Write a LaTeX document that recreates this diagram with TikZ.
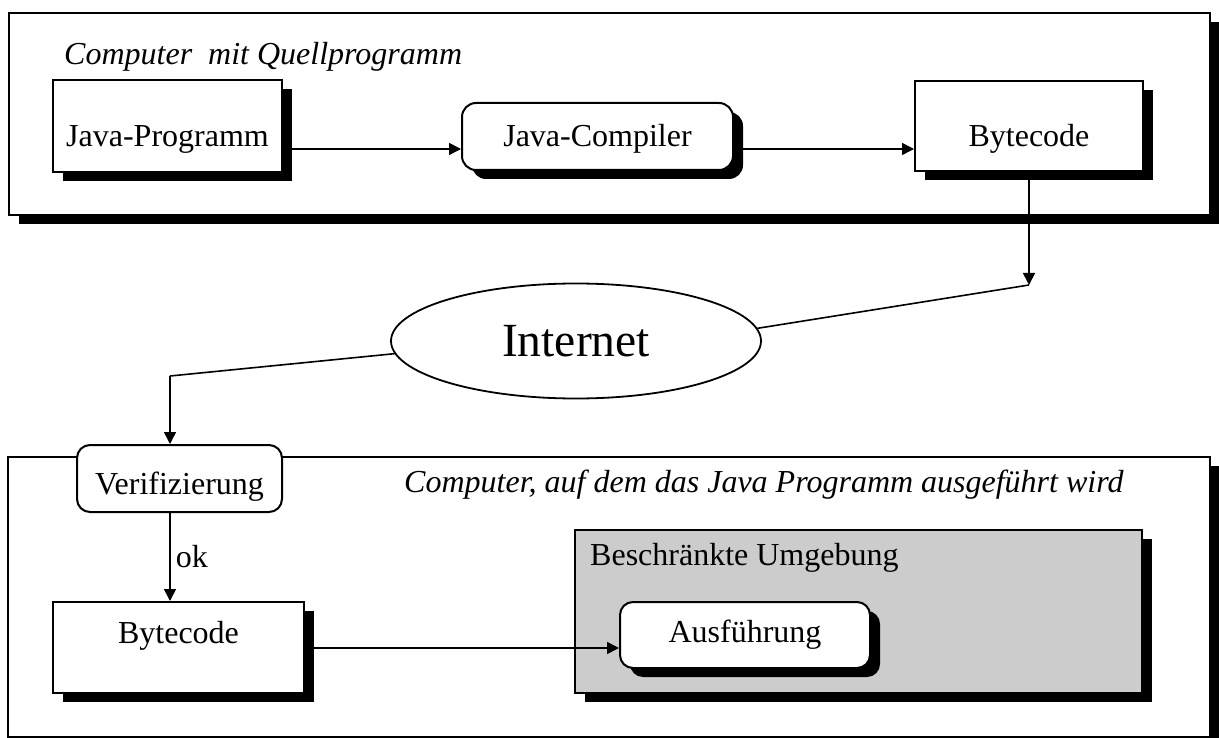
\documentclass[tikz,border=0pt]{standalone}
\usepackage{fontspec}
\setmainfont{Liberation Serif}
\usetikzlibrary{shapes.geometric,shadows,arrows.meta}

\tikzset{
    schrift/.style={font=\fontsize{32}{38}\selectfont},
    schatten/.style={drop shadow={shadow xshift=10pt, shadow yshift=-9pt, fill=black, opacity=1}},
    rahmen/.style={draw, line width=2pt, fill=white, schatten},
    kasten/.style={draw, line width=2pt, fill=white, schrift, inner sep=0pt, schatten},
    rkasten/.style={kasten, rounded corners=14pt},
    titel/.style={schrift, font=\fontsize{32}{38}\selectfont\itshape, inner sep=0pt},
    pfeil/.style={line width=1.6pt, -{Triangle[length=12pt,width=12pt]}},
    linie/.style={line width=1.6pt}
}

\begin{document}
\begin{tikzpicture}[x=1pt, y=-1pt]
    \useasboundingbox (0,0) rectangle (1219,738);

    % Hoehen der waagrechten Pfeile
    \coordinate (l1) at (0,149);
    \coordinate (l2) at (0,648);

    % -------------------------------
    % Computer mit Quellprogramm
    % -------------------------------
    \draw[rahmen] (9,13) rectangle (1210,215);
    \node[titel, anchor=base west] (quelle) at (64,65) {Computer\ \ mit Quellprogramm};

    \node[kasten, minimum width=229pt, text height=67pt, text depth=25pt] (jprog) at (167.5,126) {Java-Programm};
    \node[rkasten, minimum width=271pt, text height=44pt, text depth=23pt] (jcomp) at (597.5,136.5) {Java-Compiler};
    \node[kasten, minimum width=228pt, text height=66pt, text depth=24pt] (byte1) at (1029,126) {Bytecode};

    \draw[pfeil] (jprog.east |- l1) -- (jcomp.west |- l1);
    \draw[pfeil] (jcomp.east |- l1) -- (byte1.west |- l1);

    % -------------------------------
    % Internet
    % -------------------------------
    \coordinate (knick1) at (1029,285);
    \coordinate (knick2) at (170,376);
    \node[ellipse, draw, line width=1.8pt, fill=white, minimum width=370pt, minimum height=115pt,
          font=\fontsize{47.6}{56}\selectfont] (inet) at (576,341) {Internet};

    % -------------------------------
    % Computer, auf dem das Programm laeuft
    % -------------------------------
    \draw[rahmen] (8,457) rectangle (1210,737);
    \node[titel, anchor=base west] (ziel) at (404,492) {Computer, auf dem das Java Programm ausgeführt wird};

    \node[draw, line width=2pt, fill=white, schrift, inner sep=0pt, rounded corners=13pt,
          minimum width=205pt, text height=49pt, text depth=18pt] (verif) at (179.5,478.5) {Verifizierung};
    \node[kasten, minimum width=251pt, text height=41pt, text depth=50pt] (byte2) at (178.5,647.5) {Bytecode};

    % Beschraenkte Umgebung
    \draw[rahmen, fill=black!20] (575,530) rectangle (1142,693);
    \node[schrift, anchor=base west, inner sep=0pt] (sandbox) at (590,565) {Beschränkte Umgebung};
    \node[rkasten, rounded corners=13pt, minimum width=250pt, text height=40pt, text depth=26pt] (ausf) at (745,635) {Ausführung};

    % Verbindungen
    \draw[pfeil] (byte1.south) -- (knick1);
    \draw[linie] (knick1) -- (inet.4);
    \draw[linie] (inet.184) -- (knick2);
    \draw[pfeil] (knick2) -- (knick2 |- verif.north);
    \draw[pfeil] (knick2 |- verif.south) -- (knick2 |- byte2.north)
        node[midway, right, schrift, inner sep=5pt] {ok};
    \draw[pfeil] (byte2.east |- l2) -- (ausf.west |- l2);

\end{tikzpicture}
\end{document}
